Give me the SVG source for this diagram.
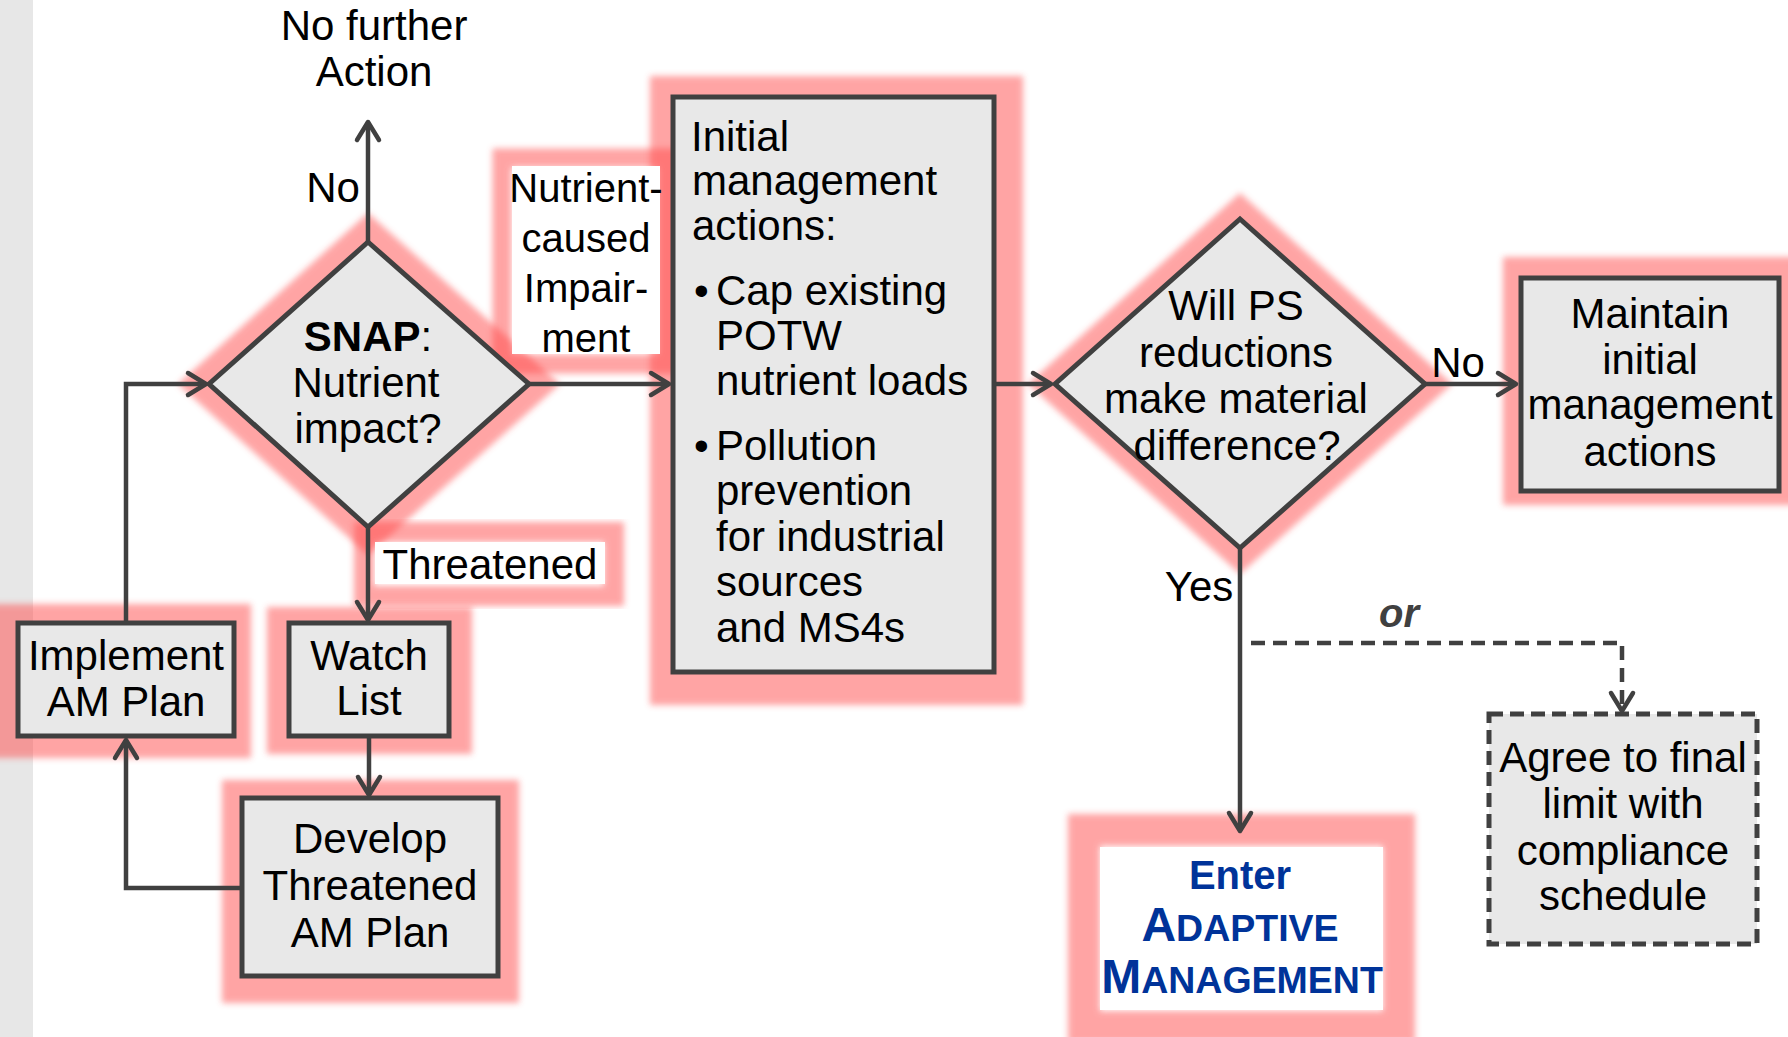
<svg xmlns="http://www.w3.org/2000/svg" width="1788" height="1037" viewBox="0 0 1788 1037">
  <defs>
    <filter id="soft" x="-20%" y="-20%" width="140%" height="140%">
      <feGaussianBlur stdDeviation="3"/>
    </filter>
    <marker id="arr" markerUnits="userSpaceOnUse" markerWidth="32" markerHeight="32" viewBox="-24 -16 32 32" refX="0" refY="0" orient="auto">
      <path d="M-18,-11 L0,0 L-18,11" fill="none" stroke="#404040" stroke-width="4.5" stroke-linecap="round" stroke-linejoin="round"/>
    </marker>
    <style>
      .bg { fill: #e7e7e7; }
      .glow { fill: #ff4c4c; opacity: 0.5; filter: url(#soft); }
      .glowband { fill: none; stroke: #ff4c4c; opacity: 0.5; filter: url(#soft); }
      .box { fill: #e8e8e8; stroke: #404040; stroke-width: 5; }
      .dashbox { fill: #e8e8e8; stroke: #404040; stroke-width: 5; stroke-dasharray: 14 7; }
      .plate { fill: #ffffff; }
      .link { fill: none; stroke: #404040; stroke-width: 4.5; marker-end: url(#arr); }
      .dash { stroke-dasharray: 14 8; }
      .t { font-family: "Liberation Sans", Arial, sans-serif; font-size: 42px; fill: #000000; }
      .c { text-anchor: middle; }
      .b { font-weight: bold; }
      .or { font-family: "Liberation Sans", Arial, sans-serif; font-size: 40px; font-weight: bold; font-style: italic; fill: #404040; text-anchor: middle; }
      .am { font-family: "Liberation Sans", Arial, sans-serif; font-weight: bold; fill: #003399; text-anchor: middle; }
      .cap { font-size: 48px; }
      .sc { font-size: 37.5px; }
    </style>
  </defs>

  <!-- page background -->
  <rect x="0" y="0" width="1788" height="1037" fill="#ffffff"/>
  <rect class="bg" x="0" y="0" width="33" height="1037"/>

  <!-- highlight glows behind the nodes -->
  <g id="glows">
    <polygon class="glow" points="368,213 560,384 368,555 178,384"/>
    <rect class="glowband" x="502" y="158" width="166" height="206" stroke-width="19"/>
    <rect class="glow" x="650" y="76" width="373" height="629"/>
    <polygon class="glow" points="1240,193 1452,384 1240,574 1028,384"/>
    <rect class="glow" x="1503" y="257" width="300" height="248"/>
    <rect class="glowband" x="364" y="532" width="250" height="64" stroke-width="20"/>
    <rect class="glow" x="-10" y="604" width="261" height="154"/>
    <rect class="glow" x="267" y="607" width="205" height="147"/>
    <rect class="glow" x="222" y="780" width="297" height="223"/>
    <rect class="glowband" x="1084" y="830" width="315" height="197" stroke-width="32"/>
  </g>

  <!-- connectors -->
  <g id="connectors">
    <path class="link" d="M368,242 V122"/>
    <path class="link" d="M529,384 H669"/>
    <path class="link" d="M368,527 V620"/>
    <path class="link" d="M369,736 V795"/>
    <path class="link" d="M242,888 H126 V740"/>
    <path class="link" d="M126,623 V384 H206"/>
    <path class="link" d="M994,384 H1051"/>
    <path class="link" d="M1425,384 H1516"/>
    <path class="link" d="M1240,548 V831"/>
    <path class="link dash" d="M1251,643 H1622 V711"/>
  </g>

  <!-- connector labels -->
  <g id="labels">
    <text class="t c" x="374" y="40">No further<tspan x="374" y="86">Action</tspan></text>
    <text class="t c" x="333" y="202">No</text>
    <text class="t c" x="1458" y="377">No</text>
    <text class="t c" x="1199" y="601">Yes</text>
    <text class="or" x="1399" y="627">or</text>
  </g>

  <g id="node-nutrient-label">
    <rect class="plate" x="512" y="166" width="148" height="188"/>
    <text class="t c" x="586" y="202" style="font-size:40px">Nutrient-<tspan x="586" y="252">caused</tspan><tspan x="586" y="302">Impair-</tspan><tspan x="586" y="352">ment</tspan></text>
  </g>

  <g id="node-threatened-label">
    <rect class="plate" x="375" y="542" width="230" height="42"/>
    <text class="t c" x="490" y="579">Threatened</text>
  </g>

  <g id="node-snap">
    <polygon class="box" points="368,242 529,384 368,527 209,384"/>
    <text class="t c" x="368" y="351"><tspan class="b">SNAP</tspan>:<tspan x="366" y="397">Nutrient</tspan><tspan x="368" y="443">impact?</tspan></text>
  </g>

  <g id="node-initial">
    <rect class="box" x="673" y="97" width="321" height="575"/>
    <text class="t" x="691" y="151">Initial<tspan x="692" y="195">management</tspan><tspan x="692" y="240">actions:</tspan></text>
    <text class="t" x="694" y="305">•</text>
    <text class="t" x="716" y="305">Cap existing<tspan x="716" y="350">POTW</tspan><tspan x="716" y="395">nutrient loads</tspan></text>
    <text class="t" x="694" y="460">•</text>
    <text class="t" x="716" y="460">Pollution<tspan x="716" y="505">prevention</tspan><tspan x="716" y="551">for industrial</tspan><tspan x="716" y="596">sources</tspan><tspan x="716" y="642">and MS4s</tspan></text>
  </g>

  <g id="node-ps-decision">
    <polygon class="box" points="1240,219 1425,384 1240,548 1055,384"/>
    <text class="t c" x="1236" y="320">Will PS<tspan x="1236" y="367">reductions</tspan><tspan x="1236" y="413">make material</tspan><tspan x="1237" y="460">difference?</tspan></text>
  </g>

  <g id="node-maintain">
    <rect class="box" x="1521" y="278" width="258" height="213"/>
    <text class="t c" x="1650" y="328">Maintain<tspan x="1650" y="374">initial</tspan><tspan x="1650" y="419">management</tspan><tspan x="1650" y="466">actions</tspan></text>
  </g>

  <g id="node-implement">
    <rect class="box" x="18" y="623" width="216" height="113"/>
    <text class="t c" x="126" y="670">Implement<tspan x="126" y="716">AM Plan</tspan></text>
  </g>

  <g id="node-watch">
    <rect class="box" x="289" y="623" width="160" height="113"/>
    <text class="t c" x="369" y="670">Watch<tspan x="369" y="715">List</tspan></text>
  </g>

  <g id="node-develop">
    <rect class="box" x="242" y="798" width="256" height="178"/>
    <text class="t c" x="370" y="853">Develop<tspan x="370" y="900">Threatened</tspan><tspan x="370" y="947">AM Plan</tspan></text>
  </g>

  <g id="node-agree">
    <rect class="dashbox" x="1489" y="714" width="268" height="230"/>
    <text class="t c" x="1623" y="772">Agree to final<tspan x="1623" y="818">limit with</tspan><tspan x="1623" y="865">compliance</tspan><tspan x="1623" y="910">schedule</tspan></text>
  </g>

  <g id="node-adaptive">
    <rect class="plate" x="1100" y="847" width="283" height="163"/>
    <text class="am" x="1240" y="889" style="font-size:40px">Enter</text>
    <!-- small-caps lines -->
    <text class="am cap" x="1240" y="941">A<tspan class="sc">DAPTIVE</tspan></text>
    <text class="am cap" x="1242" y="993">M<tspan class="sc">ANAGEMENT</tspan></text>
  </g>
</svg>
